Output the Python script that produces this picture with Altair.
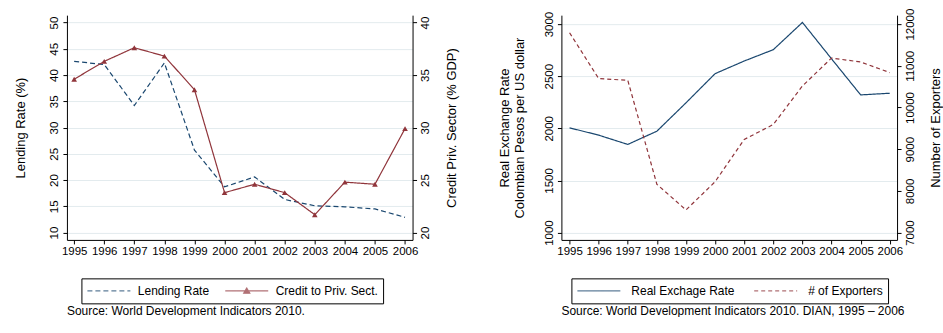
import altair as alt
import pandas as pd

# Colombia, 1995-2006
years = list(range(1995, 2007))
lending_rate = [42.6, 42.0, 34.2, 42.3, 25.7, 18.7, 20.6, 16.3, 15.1, 14.9, 14.5, 12.9]
credit_private = [34.6, 36.3, 37.6, 36.8, 33.6, 23.8, 24.6, 23.8, 21.7, 24.8, 24.6, 29.9]
real_exchange_rate = [2005, 1935, 1846, 1973, 2245, 2525, 2646, 2755, 3016, 2667, 2321, 2337]
exporters = [11794, 10694, 10653, 8158, 7543, 8220, 9234, 9593, 10517, 11187, 11091, 10837]

finance_series = ["Lending Rate", "Credit to Priv. Sect."]
trade_series = ["Real Exchage Rate", "# of Exporters"]

BLUE = "#1a476f"
RED = "#90353b"
GRID = "#e3ebee"
FONT = "Liberation Sans"

# legend key glyphs: plain line, and line with a triangle marker
KEY_LINE = "M-1,0H1"
KEY_MARKER = "M-1,0H1M-0.14,0.11L0,-0.13L0.14,0.11Z"

finance = pd.DataFrame({"year": years, "lending": lending_rate, "credit": credit_private})
trade = pd.DataFrame({"year": years, "rer": real_exchange_rate, "exporters": exporters})


def year_axis(domain):
    return alt.X(
        "year:Q",
        scale=alt.Scale(domain=domain, nice=False, zero=False),
        axis=alt.Axis(values=years, format="d", title=None, labelAngle=0, grid=False,
                      tickSize=4, labelPadding=2, labelFlush=False),
    )


def value_axis(orient, values, title, grid, title_padding, **kw):
    base = "bottom" if orient == "left" else "top"
    return alt.Axis(orient=orient, values=values, title=title, grid=grid, format="d",
                    labelAngle=270, labelAlign="center", labelBaseline=base,
                    titleAngle=270, titlePadding=title_padding, titleFontWeight="normal",
                    titleFontSize=13, titleFont=FONT, titleColor="black",
                    tickSize=4, labelPadding=3, **kw)


def series_legend(x, y, label_offset, column_padding):
    return alt.Legend(
        title=None, orient="none", legendX=x, legendY=y, direction="horizontal",
        symbolSize=1849, symbolStrokeWidth=1.2, clipHeight=15,
        labelFontSize=12, labelFont=FONT, labelColor="black", labelOffset=label_offset,
        columnPadding=column_padding, padding=5, strokeColor="black", fillColor="white",
    )


class SeriesEncoding:
    def __init__(self, names, dashes, shapes, legend):
        self.names = names
        self.dashes = dashes
        self.shapes = shapes
        self.legend = legend

    def color(self):
        return alt.Color("series:N", scale=alt.Scale(domain=self.names, range=[BLUE, RED]),
                         legend=self.legend)

    def dash(self):
        return alt.StrokeDash("series:N", scale=alt.Scale(domain=self.names, range=self.dashes),
                              legend=self.legend)

    def shape(self):
        return alt.Shape("series:N", scale=alt.Scale(domain=self.names, range=self.shapes),
                         legend=self.legend)


# ---- left panel: lending rate vs. credit to private sector ----
fin = SeriesEncoding(finance_series, [[5, 3], [1, 0]], [KEY_LINE, KEY_MARKER],
                     series_legend(14.5, 263.5, 6.5, 15))
x_fin = year_axis([1994.76, 2006.25])

lending_line = alt.Chart(finance).transform_calculate(series=f"'{finance_series[0]}'").mark_line(
    strokeWidth=1.2).encode(
    x=x_fin,
    y=alt.Y("lending:Q", scale=alt.Scale(domain=[8.6, 51.4], nice=False, zero=False),
            axis=value_axis("left", list(range(10, 51, 5)), "Lending Rate (%)", True, 21)),
    color=fin.color(), strokeDash=fin.dash(),
)

credit_y = alt.Y("credit:Q", scale=alt.Scale(domain=[19.3, 40.7], nice=False, zero=False),
                 axis=value_axis("right", list(range(20, 41, 5)), "Credit Priv. Sector (% GDP)", False, 27))

credit_line = alt.Chart(finance).transform_calculate(series=f"'{finance_series[1]}'").mark_line(
    strokeWidth=1.2).encode(x=x_fin, y=credit_y, color=fin.color(), strokeDash=fin.dash())

credit_points = alt.Chart(finance).mark_point(shape="triangle-up", filled=True, size=32, color=RED,
                                              opacity=1).encode(x=x_fin, y=credit_y)

# carries the key glyphs for the legend only; draws no points
fin_keys = alt.Chart(finance).transform_calculate(series=f"'{finance_series[1]}'").transform_filter(
    "false").mark_point(filled=True).encode(
    x=x_fin, y=credit_y, color=fin.color(), strokeDash=fin.dash(), shape=fin.shape())

# the credit series shares one right-hand axis
credit_group = alt.layer(credit_line, credit_points, fin_keys)

left = alt.layer(lending_line, credit_group).resolve_scale(y="independent").properties(
    width=346, height=225,
    title=alt.TitleParams("Source: World Development Indicators 2010.", orient="bottom",
                          anchor="start", frame="group", fontSize=12, fontWeight="normal",
                          font=FONT, color="black", offset=2),
)

# ---- right panel: real exchange rate vs. number of exporters ----
trd = SeriesEncoding(trade_series, [[1, 0], [4, 3]], [KEY_LINE, KEY_LINE],
                     series_legend(10, 263.5, 10, 18))
x_trade = year_axis([1994.72, 2006.25])

rer_line = alt.Chart(trade).transform_calculate(series=f"'{trade_series[0]}'").mark_line(
    strokeWidth=1.2).encode(
    x=x_trade,
    y=alt.Y("rer:Q", scale=alt.Scale(domain=[930, 3086], nice=False, zero=False),
            axis=value_axis("left", list(range(1000, 3001, 500)),
                            ["Real Exchange Rate", "Colombian Pesos per US dollar"], True, 17,
                            titleLineHeight=15)),
    color=trd.color(), strokeDash=trd.dash(),
)

exporters_y = alt.Y("exporters:Q", scale=alt.Scale(domain=[6825, 12215], nice=False, zero=False),
                    axis=value_axis("right", list(range(7000, 12001, 1000)), "Number of Exporters",
                                    False, 27))

exporters_line = alt.Chart(trade).transform_calculate(series=f"'{trade_series[1]}'").mark_line(
    strokeWidth=1.2).encode(x=x_trade, y=exporters_y, color=trd.color(), strokeDash=trd.dash())

trade_keys = alt.Chart(trade).transform_calculate(series=f"'{trade_series[1]}'").transform_filter(
    "false").mark_point(filled=True).encode(
    x=x_trade, y=exporters_y, color=trd.color(), strokeDash=trd.dash(), shape=trd.shape())

exporters_group = alt.layer(exporters_line, trade_keys)

right = alt.layer(rer_line, exporters_group).resolve_scale(y="independent").properties(
    width=336, height=225,
    title=alt.TitleParams("Source: World Development Indicators 2010. DIAN, 1995 \u2013 2006",
                          orient="bottom", anchor="start", frame="group", fontSize=12,
                          fontWeight="normal", font=FONT, color="black", offset=2),
)

chart = alt.hconcat(left, right, spacing=39).resolve_scale(
    color="independent", strokeDash="independent", shape="independent"
).properties(
    padding={"left": 14, "top": 7, "right": 0, "bottom": 0},
    background="white",
).configure_view(stroke=None).configure_axis(
    labelFont=FONT, titleFont=FONT, labelFontSize=11.5, titleFontSize=13,
    titleFontWeight="normal", labelColor="black", titleColor="black",
    domainColor="black", tickColor="black", domainWidth=1, tickWidth=1,
    gridColor=GRID, gridWidth=1,
)

chart.save("out.html", embed_options={"renderer": "svg", "actions": False})
